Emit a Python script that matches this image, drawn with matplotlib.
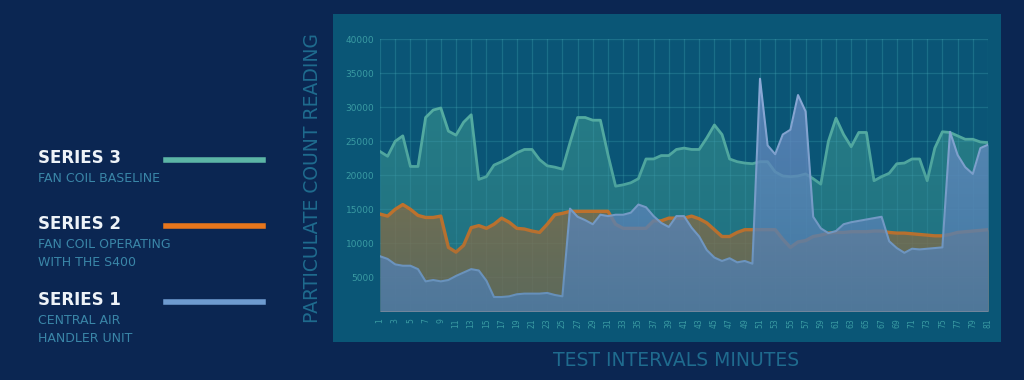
import numpy as np
import matplotlib.pyplot as plt
from matplotlib.patches import Rectangle
from matplotlib.colors import LinearSegmentedColormap

# -----------------------------
# Data
# -----------------------------
intervals = list(range(1, 82))

# Series 3 - Fan Coil Baseline
series3 = [23.5, 22.8, 25.0, 25.8, 21.3, 21.3, 28.5, 29.6, 29.9, 26.5,
           25.9, 27.8, 28.9, 19.4, 19.8, 21.5, 22.0, 22.6, 23.3, 23.8,
           23.8, 22.3, 21.4, 21.2, 20.9, 24.8, 28.5, 28.5, 28.1, 28.1,
           23.0, 18.4, 18.6, 18.9, 19.5, 22.4, 22.4, 22.9, 22.9, 23.8,
           24.0, 23.8, 23.8, 25.5, 27.4, 26.0, 22.4, 22.0, 21.8, 21.7,
           22.0, 22.0, 20.5, 19.9, 19.8, 19.9, 20.2, 19.5, 18.7, 25.0,
           28.4, 26.0, 24.2, 26.3, 26.3, 19.2, 19.8, 20.3, 21.7, 21.8,
           22.4, 22.4, 19.2, 24.0, 26.4, 26.3, 25.8, 25.3, 25.3, 24.9,
           24.8]

# Series 2 - Fan Coil Operating with the S400
series2 = [14.3, 14.0, 15.0, 15.7, 15.0, 14.1, 13.8, 13.8, 14.0, 9.4,
           8.7, 9.7, 12.3, 12.6, 12.2, 12.8, 13.7, 13.1, 12.2, 12.1,
           11.8, 11.6, 12.8, 14.2, 14.4, 14.7, 14.7, 14.7, 14.7, 14.7,
           14.7, 12.8, 12.2, 12.2, 12.2, 12.2, 13.3, 13.3, 13.7, 13.7,
           13.7, 14.0, 13.6, 13.0, 12.0, 11.0, 11.0, 11.6, 12.0, 12.0,
           12.0, 12.0, 12.0, 10.6, 9.4, 10.2, 10.4, 11.0, 11.2, 11.5,
           11.6, 11.6, 11.7, 11.7, 11.7, 11.8, 11.8, 11.6, 11.5, 11.5,
           11.4, 11.3, 11.2, 11.1, 11.1, 11.3, 11.6, 11.7, 11.8, 11.9,
           12.0]

# Series 1 - Central Air Handler Unit
series1 = [8.1, 7.7, 6.9, 6.7, 6.7, 6.2, 4.4, 4.6, 4.4, 4.6,
           5.2, 5.7, 6.2, 6.0, 4.5, 2.1, 2.1, 2.2, 2.5, 2.6,
           2.6, 2.6, 2.7, 2.4, 2.2, 15.1, 13.9, 13.4, 12.8, 14.2,
           14.0, 14.2, 14.2, 14.5, 15.7, 15.3, 14.0, 13.0, 12.4, 14.0,
           14.0, 12.3, 11.0, 9.0, 7.9, 7.4, 7.8, 7.2, 7.4, 7.0,
           34.2, 24.4, 23.1, 26.0, 26.7, 31.8, 29.4, 13.9, 12.2, 11.5,
           11.8, 12.8, 13.1, 13.3, 13.5, 13.7, 13.9, 10.3, 9.3, 8.6,
           9.2, 9.1, 9.2, 9.3, 9.4, 26.4, 23.0, 21.2, 20.2, 24.0,
           24.5]

y_ticks = [5000, 10000, 15000, 20000, 25000, 30000, 35000, 40000]
x_labels = [str(i) for i in range(1, 82, 2)]

legend_items = [
    ("SERIES 3", ["FAN COIL BASELINE"], "#5cb5a6"),
    ("SERIES 2", ["FAN COIL OPERATING", "WITH THE S400"], "#e8761c"),
    ("SERIES 1", ["CENTRAL AIR", "HANDLER UNIT"], "#6e9bd0"),
]

BG = "#0b2652"
PANEL = "#0a5676"
TICK_C = "#3a9ba3"
LABEL_C = "#1f6b8e"


def main():
    fig = plt.figure(figsize=(10.24, 3.8), dpi=100, facecolor=BG)

    # light panel behind the chart
    fig.patches.append(Rectangle((333 / 1024, 1 - 342 / 380), 668 / 1024, 328 / 380,
                                 transform=fig.transFigure, facecolor=PANEL,
                                 edgecolor="none", zorder=-5))

    ax = fig.add_axes([380 / 1024, 1 - 311.3 / 380, 608 / 1024, 272 / 380])
    ax.set_facecolor(PANEL)
    ax.set_zorder(2)

    x = np.array(intervals)
    s3 = np.array(series3) * 1000
    s2 = np.array(series2) * 1000
    s1 = np.array(series1) * 1000

    ax.fill_between(x, s3, 0, color="#3f9c93", alpha=0.6, lw=0, zorder=2)
    ax.plot(x, s3, color="#5cb5a6", lw=2, zorder=3)

    ax.fill_between(x, s2, 0, color="#c46f28", alpha=0.62, lw=0, zorder=4)
    ax.plot(x, s2, color="#f07a18", lw=2.4, zorder=5)

    ax.fill_between(x, s1, 0, color="#6f90c8", alpha=0.78, lw=0, zorder=6)
    ax.plot(x, s1, color="#93aedc", lw=1.5, zorder=7)

    # darker toward the bottom
    grad = np.linspace(0, 1, 256).reshape(-1, 1)
    cm = LinearSegmentedColormap.from_list(
        "g", [(0.04, 0.33, 0.47, 0.0), (0.04, 0.33, 0.47, 0.35)])
    ax.imshow(grad, extent=(1, 81, 0, 40000), aspect="auto", origin="upper",
              cmap=cm, zorder=8)

    ax.set_xlim(1, 81)
    ax.set_ylim(0, 40000)
    ax.set_xticks(range(1, 82, 2))
    ax.set_xticklabels(x_labels, rotation=90, fontsize=5.5, color=TICK_C,
                       va="top", ha="center")
    ax.set_yticks(y_ticks)
    ax.set_yticklabels([str(v) for v in y_ticks], fontsize=6.5, color=TICK_C)
    ax.tick_params(length=0, pad=4)
    ax.tick_params(axis="x", pad=5)
    ax.set_axisbelow(False)
    ax.grid(True, color="#4ab0bc", alpha=0.28, lw=0.9, zorder=9)
    for sp in ax.spines.values():
        sp.set_visible(False)

    fig.text(312 / 1024, 1 - 178 / 380, "PARTICULATE COUNT READING", rotation=90,
             ha="center", va="center", fontsize=13.5, color=LABEL_C)
    fig.text(676 / 1024, 1 - 360 / 380, "TEST INTERVALS MINUTES",
             ha="center", va="center", fontsize=13.5, color=LABEL_C)

    # legend drawn by hand on the left
    tops = [158, 224, 300]
    for (title, subs, col), y in zip(legend_items, tops):
        fig.text(38 / 1024, 1 - y / 380, title, ha="left", va="center",
                 fontsize=12, color="#eef3f8", fontweight="bold")
        fig.add_artist(plt.Line2D([166 / 1024, 263 / 1024], [1 - (y + 2) / 380] * 2,
                                  color=col, lw=4, transform=fig.transFigure))
        for k, s in enumerate(subs):
            fig.text(38 / 1024, 1 - (y + 20 + 18 * k) / 380, s, ha="left", va="center",
                     fontsize=9, color="#3a86a8")

    plt.savefig("out.png", dpi=100, facecolor=BG)


if __name__ == "__main__":
    main()
